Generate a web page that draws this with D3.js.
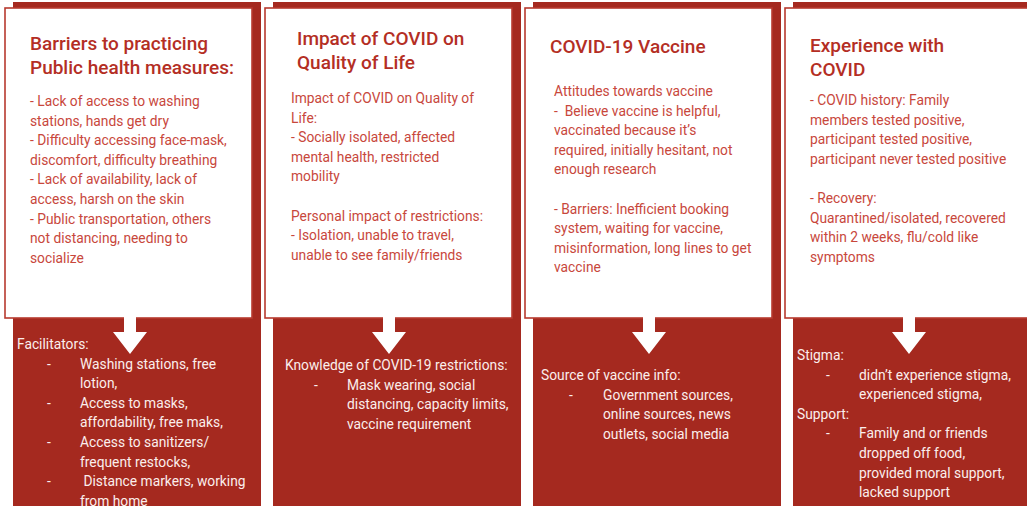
<!DOCTYPE html>
<html>
<head>
<meta charset="utf-8">
<script src="https://cdn.jsdelivr.net/npm/d3@7"></script>
<style>
  body { margin: 0; background: #fff; }
  svg { display: block; font-family: Roboto, "Noto Sans", sans-serif; }
  text { white-space: pre; }
</style>
</head>
<body>
<svg width="1027" height="506"></svg>
<script>
// panel content
var panelTitles = [
  ["Barriers to practicing", "Public health measures:"],
  ["Impact of COVID on", "Quality of Life"],
  ["COVID-19 Vaccine"],
  ["Experience with", "COVID"]
];

var panelBody = [
  ["- Lack of access to washing", "stations, hands get dry", "- Difficulty accessing face-mask,",
   "discomfort, difficulty breathing", "- Lack of availability, lack of", "access, harsh on the skin",
   "- Public transportation, others", "not distancing, needing to", "socialize"],
  ["Impact of COVID on Quality of", "Life:", "- Socially isolated, affected", "mental health, restricted",
   "mobility", "", "Personal impact of restrictions:", "- Isolation, unable to travel,",
   "unable to see family/friends"],
  ["Attitudes towards vaccine", "-  Believe vaccine is helpful,", "vaccinated because it\u2019s",
   "required, initially hesitant, not", "enough research", "", "- Barriers: Inefficient booking",
   "system, waiting for vaccine,", "misinformation, long lines to get", "vaccine"],
  ["- COVID history: Family", "members tested positive,", "participant tested positive,",
   "participant never tested positive", "", "- Recovery:", "Quarantined/isolated, recovered",
   "within 2 weeks, flu/cold like", "symptoms"]
];

// h = heading, d = dashed item, c = continued line
var bottomLines = [
  [["h", "Facilitators:"], ["d", "Washing stations, free"], ["c", "lotion,"],
   ["d", "Access to masks,"], ["c", "affordability, free maks,"],
   ["d", "Access to sanitizers/"], ["c", "frequent restocks,"],
   ["d", " Distance markers, working"], ["c", "from home"]],
  [["h", "Knowledge of COVID-19 restrictions:"], ["d", "Mask wearing, social"],
   ["c", "distancing, capacity limits,"], ["c", "vaccine requirement"]],
  [["h", "Source of vaccine info:"], ["d", "Government sources,"],
   ["c", "online sources, news"], ["c", "outlets, social media"]],
  [["h", "Stigma:"], ["d", "didn\u2019t experience stigma,"], ["c", "experienced stigma,"],
   ["h", "Support:"], ["d", "Family and or friends"], ["c", "dropped off food,"],
   ["c", "provided moral support,"], ["c", "lacked support"]]
];

var svg = d3.select("svg"),
    width = +svg.attr("width"),
    height = +svg.attr("height");

var dark = "#a5291f",
    cardRed = "#b73a2f",
    titleRed = "#b42e24",
    bodyRed = "#c8473c",
    light = "#fbeeec";

// layout per column (offsets from column left)
var layout = [
  {titleY: 43, titleX: 17, bodyY: 101, bodyX: 17, botY: 344, hX: 4, dX: 34, tX: 67, arrow: 117},
  {titleY: 38, titleX: 24, bodyY: 98, bodyX: 18, botY: 365, hX: 12, dX: 41, tX: 74, arrow: 116},
  {titleY: 46, titleX: 17, bodyY: 91, bodyX: 21, botY: 375, hX: 8, dX: 36, tX: 70, arrow: 116},
  {titleY: 45, titleX: 17, bodyY: 100, bodyX: 17, botY: 355, hX: 4, dX: 33, tX: 66, arrow: 116}
];

var x = d3.scaleLinear()
    .domain([0, 3])
    .range([13, 793]);

var colW = 248;
var lineStep = 19.6, titleStep = 24;
var cardTop = 8, cardBottom = 318, rectTop = 2;
var bodySize = 13.8, titleSize = 19;

var col = svg.selectAll(".col")
    .data(d3.range(4))
  .enter().append("g")
    .attr("class", "col")
    .attr("transform", function(i) { return "translate(" + x(i) + ",0)"; });

col.append("rect")
    .attr("x", 0)
    .attr("y", rectTop)
    .attr("width", colW)
    .attr("height", height - rectTop + 10)
    .attr("fill", dark);

col.append("rect")
    .attr("x", -8)
    .attr("y", cardTop)
    .attr("width", colW - 1)
    .attr("height", cardBottom - cardTop)
    .attr("fill", "#fff")
    .attr("stroke", cardRed)
    .attr("stroke-width", 1.6);

// arrow out of the card
col.append("path")
    .attr("fill", "#fff")
    .attr("d", function(i) {
      var cx = layout[i].arrow;
      return "M" + (cx - 6) + "," + (cardBottom - 2) +
             "L" + (cx + 6) + "," + (cardBottom - 2) +
             "L" + (cx + 6) + "," + 332 +
             "L" + (cx + 17) + "," + 332 +
             "L" + cx + "," + 354 +
             "L" + (cx - 17) + "," + 332 +
             "L" + (cx - 6) + "," + 332 + "Z";
    });

col.each(function(i) {
  var g = d3.select(this), L = layout[i];

  g.selectAll(".title")
      .data(panelTitles[i])
    .enter().append("text")
      .attr("x", L.titleX)
      .attr("y", function(d, k) { return L.titleY + k * titleStep; })
      .attr("dominant-baseline", "central")
      .attr("font-size", titleSize)
      .attr("font-weight", 500)
      .attr("fill", titleRed)
      .text(function(d) { return d; });

  g.selectAll(".body")
      .data(panelBody[i])
    .enter().append("text")
      .attr("x", L.bodyX)
      .attr("y", function(d, k) { return L.bodyY + k * lineStep; })
      .attr("dominant-baseline", "central")
      .attr("font-size", bodySize)
      .attr("fill", bodyRed)
      .text(function(d) { return d; });

  var bot = g.selectAll(".bot")
      .data(bottomLines[i])
    .enter().append("g")
      .attr("transform", function(d, k) { return "translate(0," + (L.botY + k * lineStep) + ")"; });

  bot.filter(function(d) { return d[0] == "d"; })
    .append("text")
      .attr("x", L.dX)
      .attr("dominant-baseline", "central")
      .attr("font-size", bodySize)
      .attr("fill", light)
      .text("-");

  bot.append("text")
      .attr("x", function(d) { return d[0] == "h" ? L.hX : L.tX; })
      .attr("dominant-baseline", "central")
      .attr("font-size", bodySize)
      .attr("fill", light)
      .text(function(d) { return d[1]; });
});
</script>
</body>
</html>
